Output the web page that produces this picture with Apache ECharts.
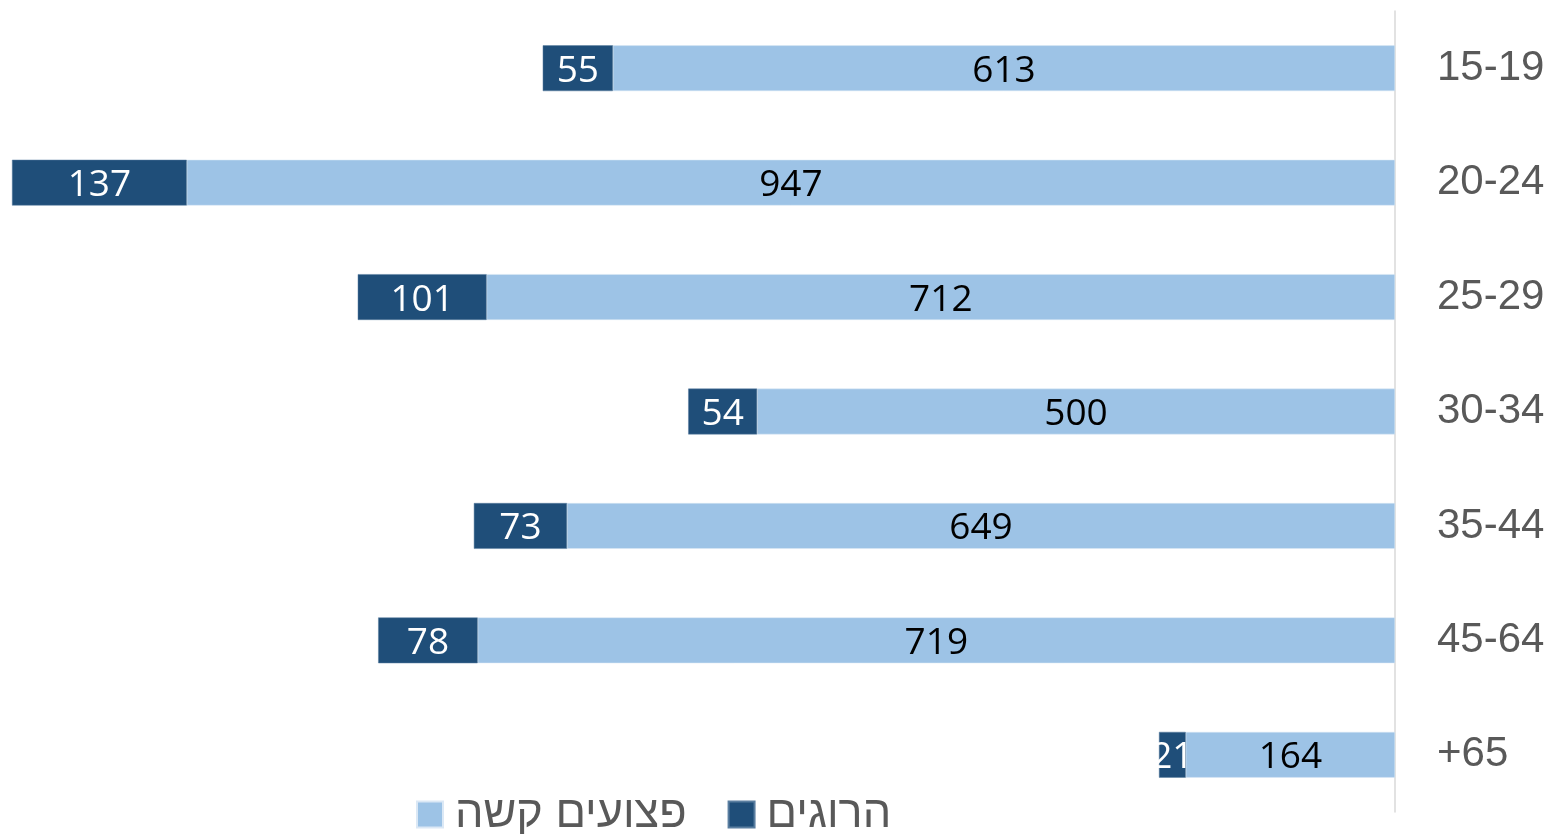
<!DOCTYPE html>
<html><head><meta charset="utf-8">
<script src="https://cdn.jsdelivr.net/npm/echarts@6/dist/echarts.min.js"></script>
<style>html,body{margin:0;padding:0;background:#fff}#c{width:1548px;height:834px}</style>
</head><body><div id="c"></div>
<script>
const categories = ['15-19','20-24','25-29','30-34','35-44','45-64','+65'];
const injured = [613, 947, 712, 500, 649, 719, 164];
const killed = [55, 137, 101, 54, 73, 78, 21];
const seriesNames = ['פצועים קשה', 'הרוגים'];

const chart = echarts.init(document.getElementById('c'));
chart.setOption({
  animation: false,
  backgroundColor: '#fff',
  grid: { left: 12, right: 153, top: 11, height: 801 },
  xAxis: { type: 'value', inverse: true, min: 0, max: 1084, show: false },
  yAxis: {
    type: 'category', data: categories, inverse: true, position: 'right',
    axisLine: { show: true, lineStyle: { color: '#d9d9d9', width: 1.5 } },
    axisTick: { show: false },
    axisLabel: { margin: 42, color: '#595959', fontSize: 42, fontFamily: 'Liberation Sans', padding: [8, 0, 0, 0] }
  },
  legend: {
    left: 416, top: 792, padding: 0, itemWidth: 26, itemHeight: 26, itemGap: 41,
    icon: 'rect',
    data: [seriesNames[0], seriesNames[1]],
    textStyle: { color: '#595959', fontSize: 45, fontFamily: 'Liberation Sans', padding: [0, 0, 0, 7] }
  },
  series: [
    {
      name: seriesNames[0], type: 'bar', stack: 'a', data: injured, barWidth: '40%',
      itemStyle: { color: '#9DC3E6', borderColor: '#dbe8f5', borderWidth: 0.5 },
      label: { show: true, position: 'inside', color: '#000', fontSize: 37, fontFamily: 'Open Sans', offset: [0, 3] }
    },
    {
      name: seriesNames[1], type: 'bar', stack: 'a', data: killed, barWidth: '40%',
      itemStyle: { color: '#1F4E79', borderColor: '#5a7ea0', borderWidth: 0.5 },
      label: { show: true, position: 'inside', color: '#fff', fontSize: 37, fontFamily: 'Open Sans', offset: [0, 3] }
    }
  ]
});
</script></body></html>
